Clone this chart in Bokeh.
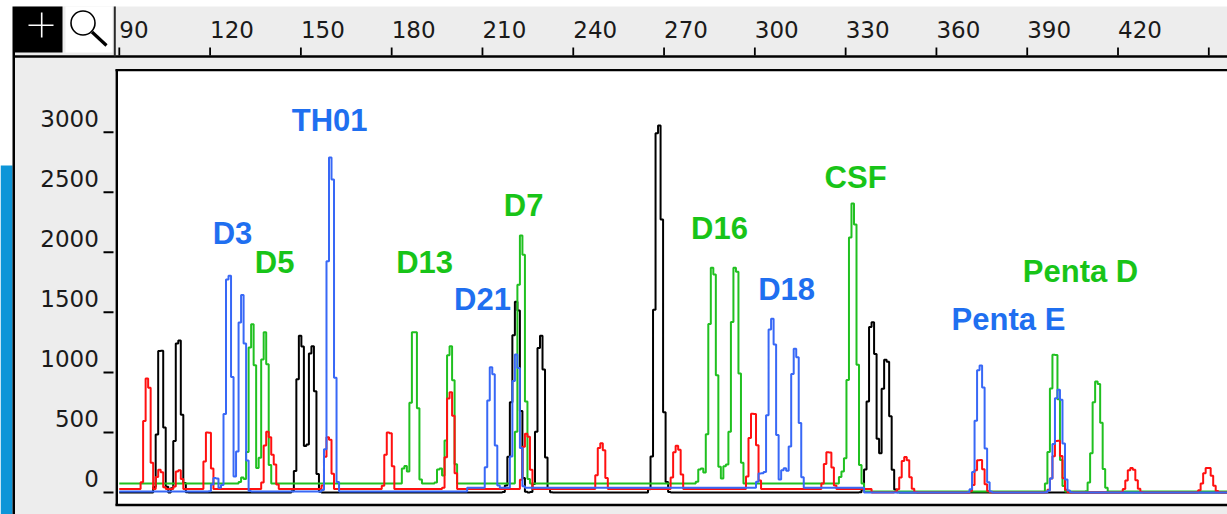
import numpy as np
from bokeh.plotting import figure
from bokeh.models import Range1d, ColumnDataSource
from bokeh.core.properties import value
from bokeh.embed import file_html
from bokeh.resources import INLINE

# ---------------- data ----------------
x_ticks = [90, 120, 150, 180, 210, 240, 270, 300, 330, 360, 390, 420, 450]
x_tick_labels = ["90", "120", "150", "180", "210", "240", "270", "300", "330", "360", "390", "420"]
y_ticks = [0, 500, 1000, 1500, 2000, 2500, 3000]
y_tick_labels = ["0", "500", "1000", "1500", "2000", "2500", "3000"]

# peaks: size (bp) and height (RFU)
red_bp = [99.3, 103.4, 109.7, 119.4, 139.0, 140.7, 159.1, 179.1, 199.4, 224.6, 249.3,
          274.3, 299.5, 324.4, 349.8, 374.3, 400.0, 424.5, 449.7]
red_h = [950, 190, 185, 500, 490, 260, 460, 500, 835, 490, 410,
         390, 655, 335, 295, 270, 430, 205, 205]

black_bp = [103.7, 109.6, 149.9, 153.7, 219.9, 221.4, 229.3, 268.2, 338.8, 343.4]
black_h = [1180, 1265, 1305, 1218, 500, 1488, 1305, 3056, 1418, 1105]

blue_bp = [121.8, 126.2, 130.6, 159.9, 213.0, 221.2, 302.2, 305.7, 309.9, 313.4, 374.5, 400.4]
blue_h = [120, 1805, 1645, 2790, 1043, 1150, 160, 1446, 200, 1196, 1057, 855]

green_bp = [130.8, 133.9, 138.1, 184.5, 187.5, 196.0, 199.4, 222.9, 282.4, 286.1,
            290.6, 293.6, 329.2, 332.4, 399.1, 413.1]
green_h = [125, 1400, 1335, 220, 1335, 200, 1218, 2140, 200, 1871,
           220, 1871, 160, 2406, 1147, 924]

# baseline levels (piecewise, starting at bp)
red_base_from = [88.0, 338.0]
red_base_level = [30, 0]
black_base_from = [88.0]
black_base_level = [0]
blue_base_from = [88.0, 205.0, 336.0]
blue_base_level = [8, 40, 0]
green_base_from = [88.0, 336.0]
green_base_level = [75, 8]

# locus labels (centre of each label)
locus_names = ["TH01", "D3", "D5", "D13", "D21", "D7", "D16", "D18", "CSF", "Penta E", "Penta D"]
locus_bp = [159.5, 127.4, 141.3, 190.9, 210.0, 223.6, 288.3, 310.5, 333.3, 383.8, 407.6]
locus_rfu = [3097, 2156, 1912, 1915, 1607, 2390, 2198, 1694, 2623, 1440, 1836]
locus_dye = ["blue", "blue", "green", "green", "blue", "green", "green", "blue", "green", "blue", "green"]

# ---------------- styling / geometry ----------------
W, H = 1227, 514
PX_PER_BP = 3.0264
PX_PER_RFU = 0.1201
GRAY = "#ededed"
label_color = {"blue": "#1f6ff0", "green": "#18c418"}
trace_color = {"red": "#ff1010", "black": "#000000", "blue": "#3868f6", "green": "#20c020"}
AXIS_FONT = value("DejaVu Sans")


def xdat(px):
    return 90 + (px - 118.8) / PX_PER_BP


def ydat(py):
    return (492 - py) / PX_PER_RFU


X0, X1 = xdat(0), xdat(W)
Y0, Y1 = ydat(H), ydat(0)
T0 = xdat(117.5)
STEP = 0.83


def build_trace(peak_bp, peak_h, base_from, base_level):
    pk = np.asarray(peak_bp, float)
    fine = np.sort(np.concatenate([np.arange(T0, X1, 0.05), pk]))
    idx = np.clip(np.searchsorted(base_from, fine, side="right") - 1, 0, len(base_level) - 1)
    base = np.asarray(base_level, float)[idx]
    sig = 0.64 + 0.0013 * (pk - 90)
    g = np.zeros_like(fine)
    for c, h, s in zip(pk, peak_h, sig):
        g += h * np.exp(-0.5 * ((fine - c) / s) ** 2)
    tr = np.maximum(base, g)
    b = np.floor((fine - T0) / STEP).astype(int)
    nb = b.max() + 1
    out = np.full(nb, -1e9)
    np.maximum.at(out, b, tr)
    xc = T0 + (np.arange(nb) + 0.5) * STEP
    return xc, out


p = figure(width=W, height=H, x_range=Range1d(X0, X1), y_range=Range1d(Y0, Y1),
           output_backend="svg", toolbar_location=None,
           x_axis_location=None, y_axis_location=None,
           min_border_left=0, min_border_top=0, min_border_right=0, min_border_bottom=0,
           background_fill_color="white", border_fill_color="white", outline_line_color=None)
p.grid.visible = False

# ---- window chrome (gray panels) ----
p.quad(left=xdat(14), right=X1, bottom=ydat(69), top=ydat(6), fill_color=GRAY, line_color=None)
p.quad(left=xdat(14), right=xdat(115.5), bottom=Y0, top=ydat(6), fill_color=GRAY, line_color=None)
p.quad(left=xdat(115.5), right=X1, bottom=Y0, top=ydat(505), fill_color=GRAY, line_color=None)
p.quad(left=X0, right=xdat(12), bottom=Y0, top=ydat(165), fill_color="#0d95d8", line_color=None)
p.quad(left=xdat(12), right=xdat(14.5), bottom=Y0, top=ydat(6), fill_color="black", line_color=None)

# tool icons
p.quad(left=xdat(14.5), right=xdat(62), bottom=ydat(52), top=ydat(6), fill_color="black", line_color=None)
p.quad(left=xdat(65), right=xdat(112), bottom=ydat(52), top=ydat(6), fill_color="white", line_color=None)
p.segment(x0=[xdat(41.2), xdat(28)], y0=[ydat(12), ydat(24.7)],
          x1=[xdat(41.2), xdat(53)], y1=[ydat(37), ydat(24.7)], line_color="white", line_width=1.6)
p.scatter(x=[xdat(82.5)], y=[ydat(22.5)], marker="circle", size=24, fill_color=None,
          line_color="black", line_width=1.6)
p.segment(x0=[xdat(91.5)], y0=[ydat(31.5)], x1=[xdat(106)], y1=[ydat(45)],
          line_color="black", line_width=3.2)

# ---- traces ----
for color, bp, hh, bf, bl in [
    ("black", black_bp, black_h, black_base_from, black_base_level),
    ("green", green_bp, green_h, green_base_from, green_base_level),
    ("red", red_bp, red_h, red_base_from, red_base_level),
    ("blue", blue_bp, blue_h, blue_base_from, blue_base_level),
]:
    xs, ys = build_trace(bp, hh, bf, bl)
    p.step(x=xs, y=ys, mode="center", line_color=trace_color[color], line_width=2.0)

# ---- frame lines ----
p.segment(x0=[xdat(14), xdat(115), xdat(116.3), xdat(115)],
          y0=[ydat(56), ydat(69.6), ydat(69), ydat(504.5)],
          x1=[X1, X1, xdat(116.3), X1],
          y1=[ydat(56), ydat(69.6), ydat(505), ydat(504.5)],
          line_color="black", line_width=2.4)
p.segment(x0=[xdat(114.3)], y0=[ydat(6)], x1=[xdat(114.3)], y1=[ydat(56)],
          line_color="#2a2a2a", line_width=2)

# ---- top axis: ticks and labels ----
p.segment(x0=x_ticks, y0=[ydat(55)] * len(x_ticks), x1=x_ticks, y1=[ydat(47)] * len(x_ticks),
          line_color="black", line_width=1.8)
p.text(x=x_ticks[:len(x_tick_labels)], y=[ydat(28.5)] * len(x_tick_labels), text=x_tick_labels,
       text_align="left", text_baseline="alphabetic", text_font=AXIS_FONT,
       text_font_size=value("23px"), text_color="#1a1a1a")

# ---- left axis: ticks and labels ----
yl = [v + 14.0 / PX_PER_RFU for v in y_ticks]
p.segment(x0=[xdat(103)] * len(y_ticks), y0=y_ticks, x1=[xdat(113)] * len(y_ticks), y1=y_ticks,
          line_color="black", line_width=2)
p.text(x=[xdat(98.3)] * len(y_ticks), y=yl, text=y_tick_labels,
       text_align="right", text_baseline="alphabetic", text_font=AXIS_FONT,
       text_font_size=value("23px"), text_color="#1a1a1a")

# ---- locus labels ----
loc_src = ColumnDataSource(dict(x=locus_bp, y=locus_rfu, name=locus_names,
                                color=[label_color[d] for d in locus_dye]))
p.text(x="x", y="y", text="name", source=loc_src, text_color="color",
       text_font=value("Liberation Sans"), text_font_style="bold",
       text_font_size=value("31px"), text_align="center", text_baseline="alphabetic")

open("out.html", "w").write(file_html(p, INLINE))
